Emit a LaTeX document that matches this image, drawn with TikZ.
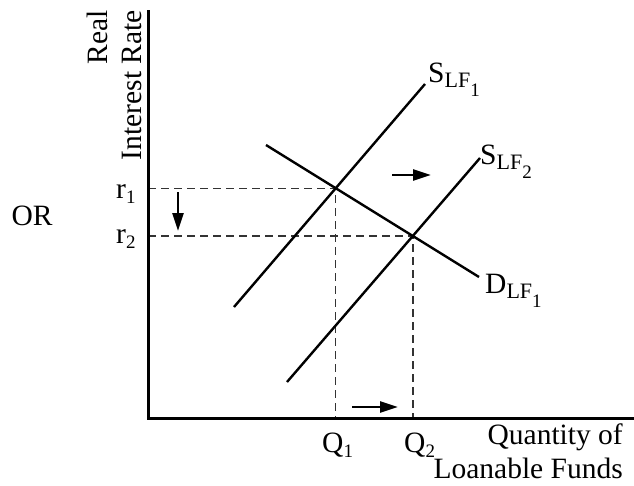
\documentclass[tikz,border=0pt]{standalone}
\usepackage{fontspec}
\setmainfont{Liberation Serif}
\usepackage{tikz}
\usetikzlibrary{arrows.meta, positioning}
\newcommand{\subsc}[1]{\raisebox{-5pt}{\fontsize{19}{19}\selectfont #1}}
\newcommand{\lfsub}[1]{\raisebox{-5pt}{\fontsize{22}{22}\selectfont LF\raisebox{-9pt}{\fontsize{19}{19}\selectfont #1}}}

\begin{document}
\begin{tikzpicture}[
  x=1pt, y=-1pt,
  axis/.style={line width=3pt},
  curve/.style={line width=2.4pt},
  guide/.style={dash pattern=on 8pt off 5pt, line width=1.4pt, black!80},
  shiftarrow/.style={-{Triangle[length=18pt,width=11pt]}, line width=2.6pt},
  lbl/.style={font=\fontsize{29.5}{34}\selectfont, inner sep=0pt}
]
  \useasboundingbox (0,0) rectangle (634,485);

  \coordinate (origin) at (148,418);
  \coordinate (ytop) at (148,10);
  \coordinate (xend) at (634,418);

  \coordinate (s1lo) at (234,307);
  \coordinate (s1hi) at (425,84);
  \coordinate (s2lo) at (287,382);
  \coordinate (s2hi) at (480,158);
  \coordinate (dhi) at (266,145);
  \coordinate (dlo) at (479,277);

  \coordinate (eq1) at (intersection of s1lo--s1hi and dhi--dlo);
  \coordinate (eq2) at (intersection of s2lo--s2hi and dhi--dlo);

  % guides to the axes
  \draw[guide] (eq1 -| origin) -- (eq1) -- (eq1 |- origin);
  \draw[guide] (eq2 -| origin) -- (eq2) -- (eq2 |- origin);

  \draw[axis] (ytop) -- (origin) -- (xend);

  \draw[curve] (s1lo) -- (s1hi);
  \draw[curve] (s2lo) -- (s2hi);
  \draw[curve] (dhi) -- (dlo);

  \node[lbl, anchor=base west] (slf1) at (428,82) {S\lfsub{1}};
  \node[lbl, anchor=base west] (slf2) at (480,164) {S\lfsub{2}};
  \node[lbl, anchor=base west] (dlf1) at (485,293) {D\lfsub{1}};

  \node[lbl, anchor=base west] (r1) at (116,198) {r\subsc{1}};
  \node[lbl, anchor=base west] (r2) at (116,243) {r\subsc{2}};
  \node[lbl, anchor=base west] (q1) at (322,452) {Q\subsc{1}};
  \node[lbl, anchor=base west] (q2) at (404,452) {Q\subsc{2}};

  \node[lbl, anchor=south east, align=right, rotate=90] (ylabel) at (142,10)
    {Real\\Interest Rate};
  \node[lbl, anchor=south east, align=right] (xlabel) at (623,479)
    {Quantity of\\Loanable Funds};
  \node[lbl, anchor=base] (orlbl) at (32,225) {OR};

  % shifts
  \coordinate (rfrom) at (178,192);
  \coordinate (rto) at (178,231);
  \coordinate (sfrom) at (392,175);
  \coordinate (sto) at (431,175);
  \coordinate (qfrom) at (352,407);
  \coordinate (qto) at (398,407);
  \draw[shiftarrow] (rfrom) -- (rto);
  \draw[shiftarrow] (sfrom) -- (sto);
  \draw[shiftarrow] (qfrom) -- (qto);

\end{tikzpicture}
\end{document}
